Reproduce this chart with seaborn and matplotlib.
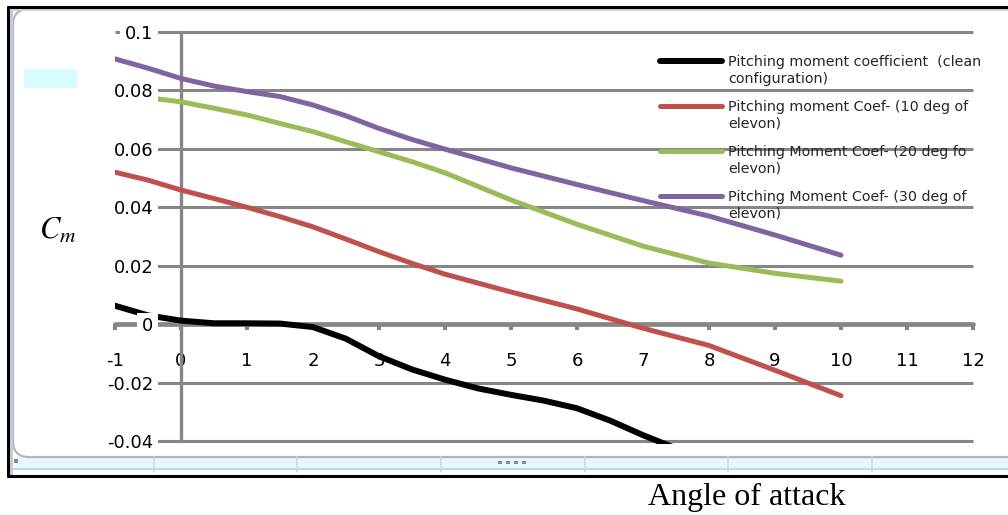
import matplotlib
matplotlib.use("Agg")
import matplotlib.pyplot as plt
import seaborn as sns
import pandas as pd
from matplotlib.lines import Line2D
from matplotlib.patches import Rectangle, FancyBboxPatch
from matplotlib.transforms import Affine2D, Bbox, TransformedBbox

# ---- data -------------------------------------------------------------
alpha = [-1, -0.5, 0, 0.5, 1, 1.5, 2, 2.5, 3, 3.5, 4, 5, 6, 7, 8, 9, 10]
alpha_clean = [-1, -0.5, 0, 0.5, 1, 1.5, 2, 2.5, 3, 3.5, 4, 4.5, 5, 5.5,
               6, 6.5, 7, 7.5, 8]
cm_clean = [0.0063, 0.0030, 0.0012, 0.0003, 0.0003, 0.0002, -0.0010, -0.0050,
            -0.0110, -0.0155, -0.0190, -0.0220, -0.0242, -0.0262, -0.0288,
            -0.0330, -0.0380, -0.0425, -0.0470]
cm_elevon10 = [0.0520, 0.0493, 0.0459, 0.0430, 0.0400, 0.0368, 0.0333, 0.0291,
               0.0248, 0.0208, 0.0171, 0.0110, 0.0052, -0.0014, -0.0073,
               -0.0158, -0.0245]
cm_elevon20 = [0.0784, 0.0775, 0.0761, 0.0739, 0.0716, 0.0687, 0.0659, 0.0624,
               0.0590, 0.0556, 0.0518, 0.0425, 0.0342, 0.0267, 0.0209,
               0.0174, 0.0147]
cm_elevon30 = [0.0908, 0.0876, 0.0841, 0.0815, 0.0796, 0.0779, 0.0750, 0.0713,
               0.0670, 0.0632, 0.0599, 0.0535, 0.0478, 0.0423, 0.0370,
               0.0305, 0.0236]

series_labels = [
    "Pitching moment coefficient  (clean\nconfiguration)",
    "Pitching moment Coef- (10 deg of\nelevon)",
    "Pitching Moment Coef- (20 deg fo\nelevon)",
    "Pitching Moment Coef- (30 deg of\nelevon)",
]
series_colors = ["#000000", "#C0504D", "#9BBB59", "#8064A2"]

x_ticks = list(range(-1, 13))
x_tick_labels = [str(v) for v in x_ticks]
y_ticks = [0.1, 0.08, 0.06, 0.04, 0.02, 0, -0.02, -0.04]
y_tick_labels = ["0.1", "0.08", "0.06", "0.04", "0.02", "0", "-0.02", "-0.04"]

GRID = "#868686"
W, H = 1008, 515

sns.set_theme(style="white")
plt.rcParams["font.family"] = ["DejaVu Sans"]
plt.rcParams["mathtext.fontset"] = "stix"

fig = plt.figure(figsize=(W / 100, H / 100), dpi=100)
fig.patch.set_facecolor("white")

# pixel coordinates measured from the top-left corner of the canvas
PX = Affine2D().scale(1, -1).translate(0, H)

# ---- worksheet / chart-area decoration -------------------------------
deco = [
    Rectangle((14, 457), 1008 - 14, 11, transform=PX, fc="#e2f8fb", ec="none"),
    Line2D([14, 1008], [469, 469], transform=PX, color="#c9d6e2", lw=1.6),
    FancyBboxPatch((13, 9), 1060 - 13, 457 - 9,
                   boxstyle="round,pad=0,rounding_size=16", transform=PX,
                   fc="none", ec="#b3b7bb", lw=1.6),
    Line2D([10.5, 10.5], [8, 476], transform=PX, color="#c4ccd8", lw=2.2),
    Line2D([8, 1008], [9.5, 9.5], transform=PX, color="#cdd5e0", lw=1.4),
    Rectangle((24, 69), 53, 19, transform=PX, fc="#d9fafc", ec="none"),
    Rectangle((14, 459), 4, 4, transform=PX, fc="#8a8a8a", ec="none"),
]
for sx in [154, 297, 441, 585, 728, 872]:
    deco.append(Line2D([sx, sx], [457, 472], transform=PX,
                       color="#c6dde8", lw=1.2))
for dx in [498, 506, 514, 522]:
    deco.append(Rectangle((dx, 461), 4, 3, transform=PX,
                          fc="#8a8a8a", ec="none"))
# outer black frame
deco += [
    Line2D([8, 1008], [7, 7], transform=PX, color="black", lw=2.2),
    Line2D([8, 8], [7, 476], transform=PX, color="black", lw=2.2),
    Line2D([8, 1008], [476, 476], transform=PX, color="black", lw=2.2),
]
for a in deco:
    fig.add_artist(a)

# ---- plot area --------------------------------------------------------
ax = fig.add_axes([115 / W, 1 - 441 / H, (973 - 115) / W, (441 - 32) / H])
ax.set_facecolor("none")
ax.set_xlim(-1, 12)
ax.set_ylim(-0.04, 0.1)

# horizontal gridlines and vertical axis at alpha = 0
grid_levels = [v for v in y_ticks if v != 0]
ax.hlines(grid_levels, -1, 12, colors=GRID, lw=2.2, zorder=0.6, clip_on=False)
ax.axvline(0, color=GRID, lw=2.4, zorder=0.7, clip_on=False)

df = pd.concat([
    pd.DataFrame({"alpha": alpha_clean, "Cm": cm_clean, "series": series_labels[0]}),
    pd.DataFrame({"alpha": alpha, "Cm": cm_elevon10, "series": series_labels[1]}),
    pd.DataFrame({"alpha": alpha, "Cm": cm_elevon20, "series": series_labels[2]}),
    pd.DataFrame({"alpha": alpha, "Cm": cm_elevon30, "series": series_labels[3]}),
], ignore_index=True)

widths = [4.3, 3.6, 3.6, 3.6]
for lab, col, lw in zip(series_labels, series_colors, widths):
    sns.lineplot(data=df[df["series"] == lab], x="alpha", y="Cm", color=col,
                 lw=lw, sort=False, ax=ax, label=lab, zorder=2,
                 solid_capstyle="round", solid_joinstyle="round")

# the plot area ends a few pixels below the lowest gridline
clip = TransformedBbox(Bbox([[0, -3 / 409], [1, 1]]), ax.transAxes)
for line in ax.get_lines():
    line.set_clip_box(clip)

# x axis drawn through Cm = 0
for side in ["top", "right", "left"]:
    ax.spines[side].set_visible(False)
ax.spines["bottom"].set_position(("data", 0))
ax.spines["bottom"].set_color(GRID)
ax.spines["bottom"].set_linewidth(3.4)
ax.spines["bottom"].set_capstyle("round")
ax.spines["bottom"].set_zorder(0.8)

ax.set_xticks(x_ticks, x_tick_labels)
ax.tick_params(axis="x", direction="out", length=4, width=3, color=GRID,
               pad=16, labelsize=13, labelcolor="black", bottom=True)
ax.set_yticks(y_ticks, y_tick_labels)
ax.tick_params(axis="y", length=0, pad=-27.5, labelsize=13,
               labelcolor="black", left=True)
ax.grid(False)
ax.set_axisbelow(True)
ax.yaxis.set_zorder(3)
for lbl in ax.get_yticklabels():
    lbl.set_bbox(dict(boxstyle="square,pad=0.25", fc="white", ec="none"))

ax.set_ylabel(r"$C_m$", rotation=0, fontsize=22, color="black")
ax.yaxis.set_label_coords((58 - 115) / 858, (441 - 230) / 409)
ax.yaxis.label.set_va("center")
ax.yaxis.label.set_ha("center")

ax.set_xlabel("Angle of attack", fontsize=23, family=["Liberation Serif"],
              color="black")
ax.xaxis.set_label_coords((747 - 115) / 858, (441 - 497) / 409)
ax.xaxis.label.set_va("center")

# legend, each swatch level with the first line of its label
handles, labels = ax.get_legend_handles_labels()
leg = ax.legend(handles, labels, loc="upper left",
                bbox_to_anchor=((660 - 115) / 858, (441 - 55) / 409),
                frameon=False, fontsize=10.3, handlelength=4.3,
                handleheight=0.95, handletextpad=0.45, labelspacing=1.0,
                borderpad=0, borderaxespad=0)
for t in leg.get_texts():
    t.set_linespacing(1.25)
for column in leg._legend_handle_box.get_children():
    for row in column.get_children():
        row.align = "top"

fig.savefig("out.png", dpi=100, facecolor="white")
